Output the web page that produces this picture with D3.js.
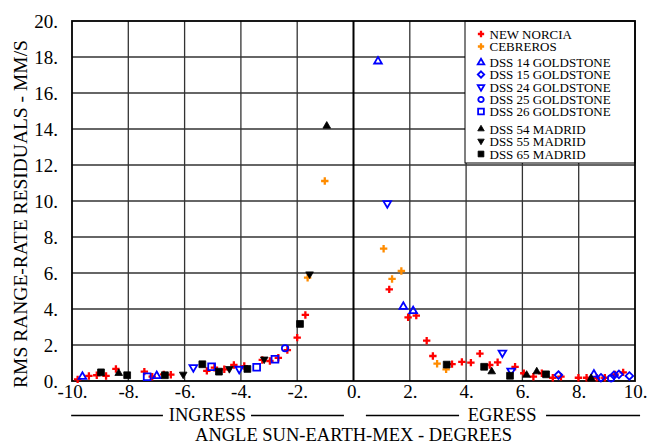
<!DOCTYPE html>
<html>
<head>
<meta charset="utf-8">
<script src="https://cdn.jsdelivr.net/npm/d3@7"></script>
<style>
  html, body { margin: 0; padding: 0; background: #fff; }
  svg { display: block; }
  text { font-family: "Liberation Serif", "Times New Roman", serif; fill: #000; }
</style>
</head>
<body>
<svg id="chart" width="659" height="445"></svg>
<script>
// ---- data (angle in degrees, RMS residual in mm/s) ----
const xTicks = [-10, -8, -6, -4, -2, 0, 2, 4, 6, 8, 10];
const yTicks = [0, 2, 4, 6, 8, 10, 12, 14, 16, 18, 20];

const newNorcia = [
  [-9.80,0.09],[-9.40,0.28],[-9.12,0.32],[-8.79,0.28],[-8.44,0.67],[-7.43,0.52],[-7.15,0.24],
  [-6.74,0.37],[-6.49,0.35],[-5.21,0.56],[-4.94,0.74],[-4.59,0.65],[-4.25,0.89],[-3.88,0.83],
  [-3.24,1.17],[-2.97,1.11],[-2.67,1.29],[-2.35,1.72],[-2.00,2.41],[-1.71,3.67],
  [1.27,5.09],[1.94,3.54],[2.23,3.63],[2.60,2.24],[2.82,1.39],[3.50,0.94],[3.85,1.06],
  [4.17,1.02],[4.49,1.52],[4.84,0.89],[5.12,1.04],[5.74,0.79],[6.05,0.43],[6.39,0.24],
  [6.69,0.43],[7.08,0.18],[7.37,0.24],[7.99,0.18],[8.28,0.18],[8.64,0.18],[8.93,0.18],
  [9.29,0.37],[9.58,0.48]
];
const cebreros = [[-1.02,11.11],[-1.63,5.74],[1.07,7.35],[1.70,6.11],[1.37,5.67],[2.97,0.96],[3.29,0.65]];
const dss14 = [[-9.63,0.24],[-6.99,0.28],[0.87,17.76],[1.77,4.13],[2.12,3.89],[8.54,0.37]];
const dss15 = [[7.28,0.33],[8.79,0.18],[9.25,0.32],[9.43,0.37],[9.80,0.28]];
const dss24 = [[-5.69,0.76],[-4.06,0.67],[1.20,9.87],[5.29,1.57],[5.60,0.56]];
const dss25 = [[-2.43,1.82],[9.15,0.15]];
const dss26 = [[-7.33,0.24],[-5.04,0.79],[-3.44,0.76],[-2.79,1.21]];
const dss54 = [[-8.34,0.43],[-0.95,14.17],[4.91,0.52],[6.15,0.33],[6.51,0.52],[8.44,0.15]];
const dss55 = [[-6.05,0.37],[-4.41,0.68],[-3.17,1.21],[-1.56,5.94]];
const dss65 = [[-8.97,0.48],[-8.04,0.32],[-6.70,0.32],[-5.37,0.93],[-4.78,0.52],[-3.77,0.67],
  [-1.90,3.17],[3.31,0.91],[4.64,0.79],[5.56,0.29],[6.84,0.37]];

const seriesNames = ["NEW NORCIA","CEBREROS","DSS 14 GOLDSTONE","DSS 15 GOLDSTONE","DSS 24 GOLDSTONE",
  "DSS 25 GOLDSTONE","DSS 26 GOLDSTONE","DSS 54 MADRID","DSS 55 MADRID","DSS 65 MADRID"];
const seriesData = [newNorcia, cebreros, dss14, dss15, dss24, dss25, dss26, dss54, dss55, dss65];

// ---- styles ----
const styles = [
  {shape:"plus", color:"#ff0000", fill:false},
  {shape:"plus", color:"#ff8c00", fill:false},
  {shape:"triUp", color:"#0000ff", fill:false},
  {shape:"diamond", color:"#0000ff", fill:false},
  {shape:"triDown", color:"#0000ff", fill:false},
  {shape:"circle", color:"#0000ff", fill:false},
  {shape:"square", color:"#0000ff", fill:false},
  {shape:"triUp", color:"#000000", fill:true},
  {shape:"triDown", color:"#000000", fill:true},
  {shape:"square", color:"#000000", fill:true}
];

function shapePath(shape, k) {
  const p = d3.path();
  if (shape === "plus") {
    const r = 3.7*k; p.moveTo(-r,0); p.lineTo(r,0); p.moveTo(0,-r); p.lineTo(0,r);
  } else if (shape === "triUp") {
    const r = 4.4*k; p.moveTo(0,-r); p.lineTo(r*0.87,r*0.5); p.lineTo(-r*0.87,r*0.5); p.closePath();
  } else if (shape === "triDown") {
    const r = 4.4*k; p.moveTo(0,r); p.lineTo(r*0.87,-r*0.5); p.lineTo(-r*0.87,-r*0.5); p.closePath();
  } else if (shape === "diamond") {
    const r = 3.8*k; p.moveTo(0,-r); p.lineTo(r,0); p.lineTo(0,r); p.lineTo(-r,0); p.closePath();
  } else if (shape === "circle") {
    const r = 3.2*k; p.moveTo(r,0); p.arc(0,0,r,0,2*Math.PI);
  } else if (shape === "square") {
    const h = 3.4*k; p.rect(-h,-h,2*h,2*h);
  }
  return p.toString();
}

function drawMarker(sel, st, k) {
  sel.attr("d", shapePath(st.shape, k))
    .attr("fill", st.fill ? st.color : "none")
    .attr("stroke", st.color)
    .attr("stroke-width", st.shape === "plus" ? 2.3 : (st.fill ? 0.8 : 1.8))
    .attr("stroke-linejoin", "miter");
}

// ---- layout ----
const svg = d3.select("#chart");
const L = 72, R = 635, T = 21, B = 381;
const x = d3.scaleLinear().domain([-10, 10]).range([L, R]);
const y = d3.scaleLinear().domain([0, 20]).range([B, T]);

// grid
const grid = svg.append("g");
grid.selectAll("line.v").data(xTicks.filter(d => d !== -10 && d !== 10 && d !== 0)).join("line")
  .attr("x1", d => x(d)).attr("x2", d => x(d)).attr("y1", T).attr("y2", B)
  .attr("stroke", "#333").attr("stroke-width", 1.3);
grid.selectAll("line.h").data(yTicks.filter(d => d !== 0 && d !== 20)).join("line")
  .attr("x1", L).attr("x2", R).attr("y1", d => y(d)).attr("y2", d => y(d))
  .attr("stroke", "#333").attr("stroke-width", 1.3);
// zero line
svg.append("line").attr("x1", x(0)).attr("x2", x(0)).attr("y1", T).attr("y2", B)
  .attr("stroke", "#000").attr("stroke-width", 2);

// legend box (covers the grid)
const lg = svg.append("g");
lg.append("rect").attr("x", 465).attr("y", T).attr("width", R - 465).attr("height", 163 - T)
  .attr("fill", "#fff").attr("stroke", "#000").attr("stroke-width", 1);
const legendY = [34, 46.5, 62.5, 74.5, 87, 99.5, 111.5, 129, 141, 154];
seriesNames.forEach((name, i) => {
  lg.append("path").attr("transform", `translate(481,${legendY[i]})`).call(drawMarker, styles[i], 0.85);
  lg.append("text").attr("x", 489.5).attr("y", legendY[i] + 4.6)
    .attr("font-size", "13px").text(name);
});

// frame
svg.append("rect").attr("x", L).attr("y", T).attr("width", R - L).attr("height", B - T)
  .attr("fill", "none").attr("stroke", "#000").attr("stroke-width", 1.8);

// axes (labels)
const fmt = d => String(d) + ".";
const xAxis = svg.append("g").attr("transform", `translate(0,${B})`)
  .call(d3.axisBottom(x).tickValues(xTicks).tickFormat(fmt).tickSize(0).tickPadding(3));
const yAxis = svg.append("g").attr("transform", `translate(${L},0)`)
  .call(d3.axisLeft(y).tickValues(yTicks).tickFormat(fmt).tickSize(0).tickPadding(14));
[xAxis, yAxis].forEach(a => {
  a.select(".domain").remove();
  a.selectAll("text").attr("font-size", "19px")
    .attr("font-family", "'Liberation Serif','Times New Roman',serif").attr("fill", "#000");
});

// data markers
seriesData.forEach((pts, i) => {
  svg.append("g").selectAll("path").data(pts).join("path")
    .attr("transform", d => `translate(${x(d[0])},${y(d[1])})`)
    .call(drawMarker, styles[i], 1);
});

// INGRESS / EGRESS annotations
const ann = svg.append("g");
const segs = [[-10.03, -6.77], [-3.64, -0.34], [0.44, 3.75], [6.84, 10.18]];
ann.selectAll("line").data(segs).join("line")
  .attr("x1", d => x(d[0])).attr("x2", d => x(d[1])).attr("y1", 415.5).attr("y2", 415.5)
  .attr("stroke", "#000").attr("stroke-width", 1.6);
ann.append("text").attr("x", x(-5.19)).attr("y", 420.5).attr("text-anchor", "middle")
  .attr("font-size", "18.5px").text("INGRESS");
ann.append("text").attr("x", x(5.28)).attr("y", 420.5).attr("text-anchor", "middle")
  .attr("font-size", "18.5px").text("EGRESS");

// axis titles
svg.append("text").attr("x", x(0)).attr("y", 441).attr("text-anchor", "middle")
  .attr("font-size", "18.5px").text("ANGLE SUN-EARTH-MEX - DEGREES");
svg.append("text").attr("transform", `translate(27,214) rotate(-90)`)
  .attr("text-anchor", "middle").attr("font-size", "19.5px").text("RMS RANGE-RATE RESIDUALS - MM/S");
</script>
</body>
</html>
